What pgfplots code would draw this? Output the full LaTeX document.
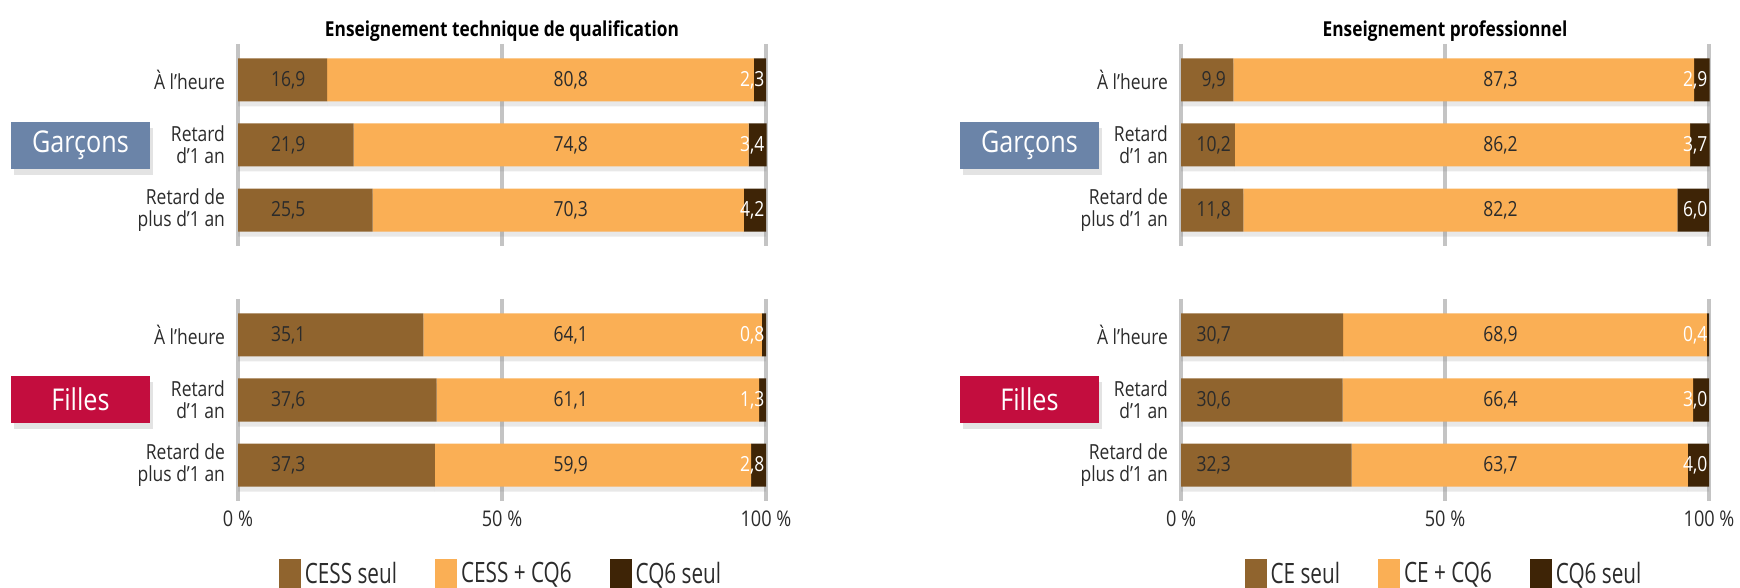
\documentclass[border=0pt]{standalone}
\usepackage{fontspec}
\setmainfont{Open Sans}[FakeStretch=0.84]
\newfontfamily\condfont{Open Sans}[FakeStretch=0.74]
\usepackage{pgfplots}
\usepackage{pgfplotstable}
\pgfplotsset{compat=1.18}
\usetikzlibrary{shadows}

\definecolor{cA}{HTML}{90642E}
\definecolor{cB}{HTML}{FAAF55}
\definecolor{cC}{HTML}{3E2406}
\definecolor{gblue}{HTML}{6B84A8}
\definecolor{fred}{HTML}{C30D3E}
\definecolor{txt}{HTML}{2B2B2B}
\definecolor{gridg}{HTML}{C4C4C4}

\newcommand\lab{\fontsize{10.4}{11}\selectfont}
\newcommand\val{\fontsize{10.4}{11}\selectfont}

% bars: y, CESS/CE seul, + CQ6, CQ6 seul
\pgfplotstableread{
y a b c
0 16.9 80.8 2.3
1 21.9 74.8 3.4
2 25.5 70.3 4.2
}\tqG
\pgfplotstableread{
y a b c
0 35.1 64.1 0.8
1 37.6 61.1 1.3
2 37.3 59.9 2.8
}\tqF
\pgfplotstableread{
y a b c
0 9.9 87.3 2.9
1 10.2 86.2 3.7
2 11.8 82.2 6.0
}\prG
\pgfplotstableread{
y a b c
0 30.7 68.9 0.4
1 30.6 66.4 3.0
2 32.3 63.7 4.0
}\prF

% value labels: position x, row y, printed text
\pgfplotstableread{
x y lab
9.5 0 16,9
9.5 1 21,9
9.5 2 25,5
63 0 80,8
63 1 74,8
63 2 70,3
}\tqGl
\pgfplotstableread{
x y lab
100 0 2,3
100 1 3,4
100 2 4,2
}\tqGw
\pgfplotstableread{
x y lab
9.5 0 35,1
9.5 1 37,6
9.5 2 37,3
63 0 64,1
63 1 61,1
63 2 59,9
}\tqFl
\pgfplotstableread{
x y lab
100 0 0,8
100 1 1,3
100 2 2,8
}\tqFw
\pgfplotstableread{
x y lab
6.2 0 9,9
6.2 1 10,2
6.2 2 11,8
60.5 0 87,3
60.5 1 86,2
60.5 2 82,2
}\prGl
\pgfplotstableread{
x y lab
100 0 2,9
100 1 3,7
100 2 6,0
}\prGw
\pgfplotstableread{
x y lab
6.2 0 30,7
6.2 1 30,6
6.2 2 32,3
60.5 0 68,9
60.5 1 66,4
60.5 2 63,7
}\prFl
\pgfplotstableread{
x y lab
100 0 0,4
100 1 3,0
100 2 4,0
}\prFw

\pgfplotsset{
  geom/.style={scale only axis, width=264pt, height=101pt,
    xmin=0, xmax=100, ymin=-0.55, ymax=2.55, y dir=reverse, clip=false},
  panel/.style={geom,
    xbar stacked, bar width=0.66,
    ytick={0,1,2},
    yticklabels={{À l'heure},{Retard\\d'1 an},{Retard de\\plus d'1 an}},
    yticklabel style={align=right, font=\lab, text=txt, xshift=-3pt},
    xtick={0,50,100},
    xmajorgrids, grid style={line width=2pt, color=gridg},
    axis line style={draw=none}, tick style={draw=none},
    xticklabel style={font=\fontsize{10.8}{12}\selectfont, text=txt, yshift=-1.5pt},
    /pgf/number format/assume math mode=true,
  },
  toppanel/.style={panel, xticklabels={},
    title style={font=\bfseries\fontsize{10.3}{12}\selectfont, text=black, yshift=-8.5pt}},
  botpanel/.style={panel, xticklabels={0 \%,50 \%,100 \%},
    legend columns=3,
    legend style={draw=none, fill=none, font=\condfont\fontsize{14}{15}\selectfont, text=txt,
      at={(0.5,-0.28)}, anchor=north, inner sep=0pt,
      /tikz/every even column/.append style={column sep=17pt}},
    legend image code/.code={\fill[##1] (0pt,-14pt) rectangle (11pt,7.5pt);},
  },
  labaxis/.style={geom, hide axis},
  lab/.style={only marks, mark=none, nodes near coords, point meta=explicit symbolic,
    nodes near coords align=center,
    every node near coord/.style={font=\val, text=txt, anchor=center, inner sep=0pt}},
  wlab/.style={only marks, mark=none, nodes near coords, point meta=explicit symbolic,
    every node near coord/.style={font=\val, text=white, anchor=east, inner sep=0.6pt}},
  shad/.style={drop shadow={shadow xshift=0pt, shadow yshift=-2.5pt, opacity=0.18}},
}

\newcommand\bars[1]{%
  \addplot[fill=cA, draw=none, shad] table[x=a,y=y]{#1};
  \addplot[fill=cB, draw=none, shad] table[x=b,y=y]{#1};
  \addplot[fill=cC, draw=none, shad] table[x=c,y=y]{#1};
}
\newcommand\labels[3]{%
  \begin{axis}[labaxis, at={#1}, anchor=south west]
  \addplot[lab] table[x=x,y=y,meta=lab]{#2};
  \addplot[wlab] table[x=x,y=y,meta=lab]{#3};
  \end{axis}
}

\begin{document}
\begin{tikzpicture}[x=1pt,y=1pt]
% ---------- left top
\begin{axis}[toppanel, at={(119pt,171pt)}, anchor=south west,
  title={Enseignement technique de qualification}]
\bars{\tqG}
\end{axis}
\labels{(119pt,171pt)}{\tqGl}{\tqGw}
% ---------- left bottom
\begin{axis}[botpanel, at={(119pt,43.5pt)}, anchor=south west]
\bars{\tqF}
\legend{CESS seul, CESS + CQ6, CQ6 seul}
\end{axis}
\labels{(119pt,43.5pt)}{\tqFl}{\tqFw}
% ---------- right top
\begin{axis}[toppanel, at={(590.5pt,171pt)}, anchor=south west,
  title={Enseignement professionnel}]
\bars{\prG}
\end{axis}
\labels{(590.5pt,171pt)}{\prGl}{\prGw}
% ---------- right bottom
\begin{axis}[botpanel, at={(590.5pt,43.5pt)}, anchor=south west]
\bars{\prF}
\legend{CE seul, CE + CQ6, CQ6 seul}
\end{axis}
\labels{(590.5pt,43.5pt)}{\prFl}{\prFw}
% ---------- group boxes
\tikzset{grp/.style={text=white, minimum width=69.5pt, minimum height=23.5pt,
  inner sep=0pt, font=\fontsize{15}{16}\selectfont,
  drop shadow={opacity=0.22, shadow xshift=1.5pt, shadow yshift=-3pt}}}
\node[grp, fill=gblue] at (40.25pt,221.25pt) {Garçons};
\node[grp, fill=fred] at (40.25pt,94.25pt) {Filles};
\node[grp, fill=gblue] at (514.75pt,221.25pt) {Garçons};
\node[grp, fill=fred] at (514.75pt,94.25pt) {Filles};
\pgfresetboundingbox
\useasboundingbox (0pt,0pt) rectangle (870pt,294pt);
\end{tikzpicture}
\end{document}
